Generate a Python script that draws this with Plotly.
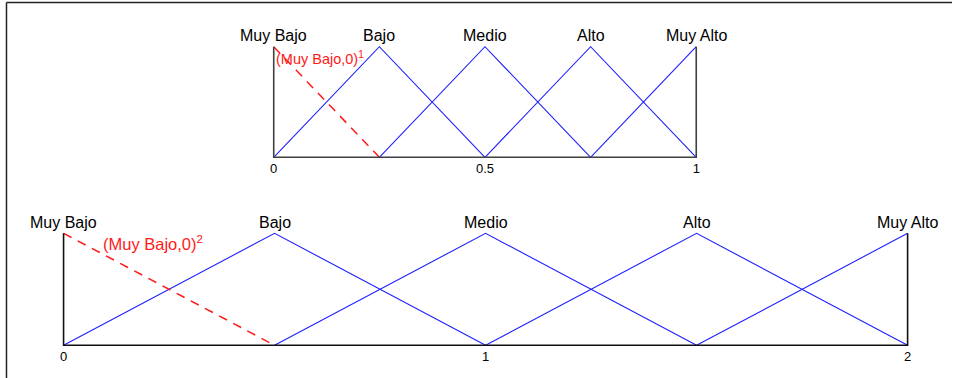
import plotly.graph_objects as go

W, H = 953, 378

# ---- data ----
term_labels = ["Muy Bajo", "Bajo", "Medio", "Alto", "Muy Alto"]
top_peaks = [0, 0.25, 0.5, 0.75, 1]
bottom_peaks = [0, 0.5, 1, 1.5, 2]
top_tickvals = [0, 0.5, 1]
top_ticktext = ["0", "0.5", "1"]
bottom_tickvals = [0, 1, 2]
bottom_ticktext = ["0", "1", "2"]
membership = [0, 1, 0]          # rise / peak / fall
top_note = "(Muy Bajo,0)<sup>1</sup>"
bottom_note = "(Muy Bajo,0)<sup>2</sup>"

BLUE = "#1f1fff"
RED = "#ff1a1a"
FONT = "Liberation Sans, Arial, sans-serif"

fig = go.Figure()


def axis_geom(px0, px1, v0, v1, pad_px):
    scale = (px1 - px0) / (v1 - v0)
    rng = [v0 - pad_px / scale, v1 + pad_px / scale]
    return rng, scale


def add_chart(peaks, xa, ya, frame_color, note, note_pos, note_size):
    # blue triangles (terms 2..5); first term falling edge is red dashed
    for i in range(1, len(peaks)):
        xs = [peaks[i - 1], peaks[i]]
        ys = membership[:2]
        if i + 1 < len(peaks):
            xs.append(peaks[i + 1])
            ys = membership
        fig.add_trace(go.Scatter(x=xs, y=ys, mode="lines",
                                 line=dict(color=BLUE, width=1.1),
                                 xaxis=xa, yaxis=ya, hoverinfo="skip"))
    # red dashed falling edge of "Muy Bajo"
    fig.add_trace(go.Scatter(x=[peaks[0], peaks[1]], y=membership[1:],
                             mode="lines",
                             line=dict(color=RED, width=1.5, dash="9px,7px"),
                             xaxis=xa, yaxis=ya, hoverinfo="skip"))
    # black frame: verticals at ends + baseline
    fig.add_trace(go.Scatter(x=[peaks[0], peaks[0], peaks[-1], peaks[-1]],
                             y=[1, 0, 0, 1], mode="lines",
                             line=dict(color=frame_color, width=1.6),
                             xaxis=xa, yaxis=ya, hoverinfo="skip"))
    # term labels
    for lab, p in zip(term_labels, peaks):
        fig.add_annotation(x=p, y=1, xref=xa, yref=ya, text=lab,
                           showarrow=False, yanchor="middle", yshift=11,
                           font=dict(family=FONT, size=16, color="black"))
    fig.add_annotation(x=note_pos[0], y=note_pos[1], xref=xa, yref=ya,
                       text=note, showarrow=False, xanchor="left",
                       yanchor="middle",
                       font=dict(family=FONT, size=note_size, color=RED))


# top chart geometry
tx_rng, _ = axis_geom(273.3, 696.7, 0, 1, 3)
ty_rng, _ = axis_geom(0, 110.6, 0, 1, 2)
# bottom chart geometry
bx_rng, _ = axis_geom(62.7, 908.5, 0, 2, 3)
by_rng, _ = axis_geom(0, 112.0, 0, 1, 2)

add_chart(top_peaks, "x", "y", "#404040", top_note, (0.001, 0.90), 14.5)
add_chart(bottom_peaks, "x2", "y2", "#111111", bottom_note, (0.089, 0.915), 16.5)

common_x = dict(showgrid=False, zeroline=False, showline=False, ticks="",
                tickfont=dict(family=FONT, size=13, color="black"),
                tickmode="array", fixedrange=True)
common_y = dict(showgrid=False, zeroline=False, showline=False,
                showticklabels=False, ticks="", fixedrange=True)

fig.update_layout(
    width=W, height=H,
    margin=dict(l=0, r=0, t=0, b=0),
    paper_bgcolor="white", plot_bgcolor="white",
    showlegend=False,
    xaxis=dict(common_x, range=tx_rng, domain=[(273.3 - 3) / W, (696.7 + 3) / W],
               tickvals=top_tickvals, ticktext=top_ticktext, anchor="y"),
    yaxis=dict(common_y, range=ty_rng,
               domain=[(H - 157.3 - 2) / H, (H - 46.7 + 2) / H], anchor="x"),
    xaxis2=dict(common_x, range=bx_rng, domain=[(62.7 - 3) / W, (908.5 + 3) / W],
                tickvals=bottom_tickvals, ticktext=bottom_ticktext, anchor="y2"),
    yaxis2=dict(common_y, range=by_rng,
                domain=[(H - 345.3 - 2) / H, (H - 233.3 + 2) / H], anchor="x2"),
    shapes=[
        dict(type="line", xref="paper", yref="paper",
             x0=5.5 / W, x1=1, y0=1 - 2.5 / H, y1=1 - 2.5 / H,
             line=dict(color="#222222", width=1.5)),
        dict(type="line", xref="paper", yref="paper",
             x0=5.5 / W, x1=5.5 / W, y0=0, y1=1 - 2.5 / H,
             line=dict(color="#222222", width=1.5)),
    ],
)

fig.write_html(
    "out.html",
    config={"displayModeBar": False},
    post_script="document.body.style.margin='0';"
                "document.body.style.overflow='hidden';",
)
